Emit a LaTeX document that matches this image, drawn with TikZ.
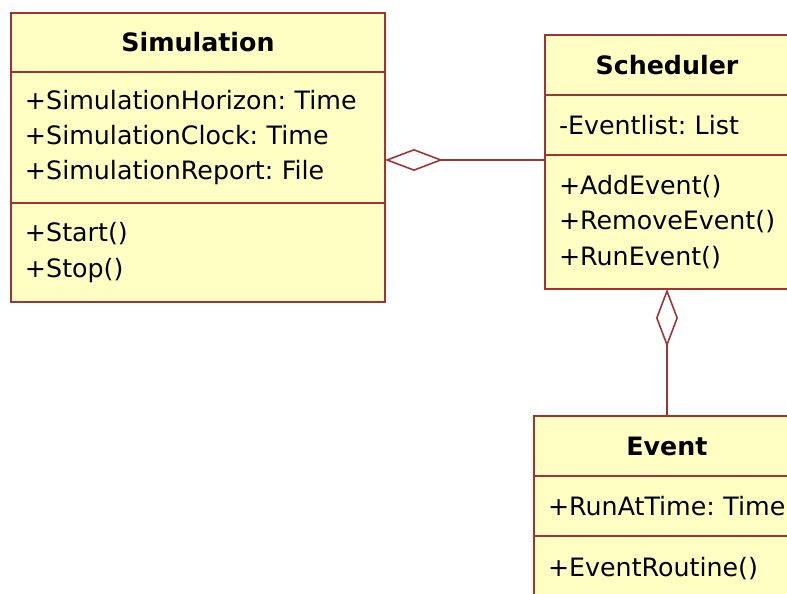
\documentclass[tikz,border=0pt]{standalone}
\usepackage{fontspec}
\setmainfont{DejaVu Sans}
\usetikzlibrary{positioning,arrows.meta}
\frenchspacing

\definecolor{umlfill}{RGB}{255,255,196}
\definecolor{umlline}{RGB}{160,52,52}

\tikzset{
    classpart/.style={draw=umlline, fill=umlfill, line width=0.9pt, outer sep=0pt,
        inner xsep=0.28cm, inner ysep=0pt, align=left,
        font=\fontsize{14.4}{20.1}\selectfont},
    classhead/.style={classpart, align=center, font=\fontsize{14.4}{20.1}\selectfont\bfseries},
    aggr/.style={-{Diamond[open,length=1.16cm,width=0.44cm]}, draw=umlline, line width=0.9pt}
}

\begin{document}
\begin{tikzpicture}[x=0.02cm,y=-0.02cm]
    \useasboundingbox (0,0) rectangle (787,593);
    \clip (0,0) rectangle (787,593);

    % Simulation
    \node[classhead, anchor=north west, text width=6.92cm, minimum height=1.18cm] (simhead) at (11,13) {Simulation};
    \node[classpart, below=0pt of simhead, text width=6.92cm, minimum height=2.62cm] (simattr)
        {+SimulationHorizon: Time\\+SimulationClock: Time\\+SimulationReport: File};
    \node[classpart, below=0pt of simattr, text width=6.92cm, minimum height=1.98cm] (simops)
        {+Start()\\+Stop()};

    % Scheduler
    \node[classhead, anchor=north west, text width=4.32cm, minimum height=1.2cm] (schedhead) at (545,35) {Scheduler};
    \node[classpart, below=0pt of schedhead, text width=4.32cm, minimum height=1.2cm] (schedattr)
        {-Eventlist: List};
    \node[classpart, below=0pt of schedattr, text width=4.32cm, minimum height=2.68cm] (schedops)
        {+AddEvent()\\+RemoveEvent()\\+RunEvent()};

    % Event
    \node[classhead, anchor=north west, text width=4.76cm, minimum height=1.2cm] (eventhead) at (534,416) {Event};
    \node[classpart, below=0pt of eventhead, text width=4.76cm, minimum height=1.2cm] (eventattr)
        {+RunAtTime: Time};
    \node[classpart, below=0pt of eventattr, text width=4.76cm, minimum height=1.3cm] (eventops)
        {+EventRoutine()};

    % aggregations
    \draw[aggr] ([yshift=-0.1cm]schedops.north west) -- ([yshift=-0.1cm]schedops.north west -| simattr.east);
    \draw[aggr] (eventhead.north) -- (schedops.south);
\end{tikzpicture}
\end{document}
